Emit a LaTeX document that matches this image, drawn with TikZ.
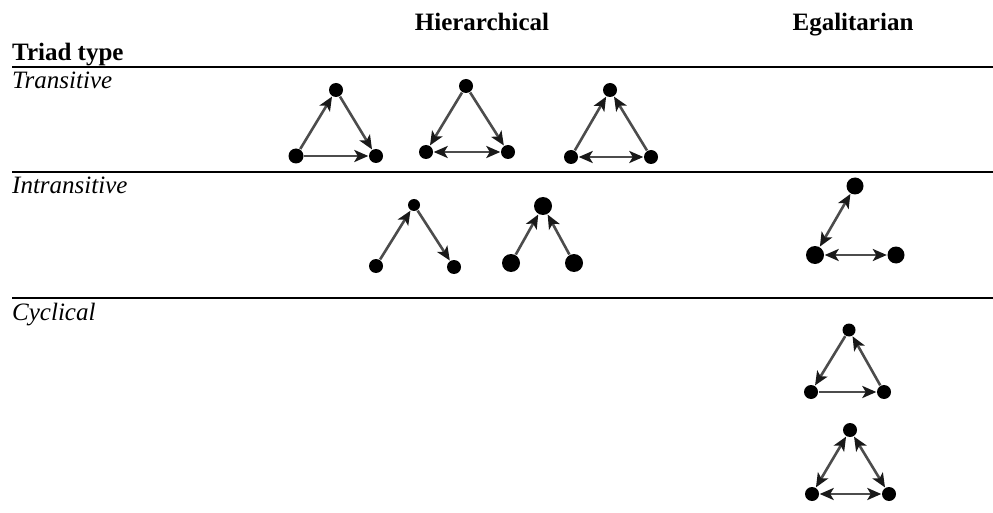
\documentclass[tikz,border=0pt]{standalone}
\usepackage{fontspec}
\setmainfont{Liberation Serif}
\usetikzlibrary{arrows.meta}
\begin{document}
\begin{tikzpicture}[x=1pt,y=-1pt,
  txt/.style={inner sep=0pt,font=\fontsize{25}{29}\selectfont},
  hd/.style={txt,font=\fontsize{25}{29}\selectfont\bfseries},
  row/.style={txt,font=\fontsize{25}{29}\selectfont\itshape,anchor=base west},
  rule/.style={line width=1.1pt},
  vtx/.style={circle,fill=black,inner sep=0pt,minimum size=14pt},
  big/.style={vtx,minimum size=18pt},
  tie/.style={line width=2.6pt,draw=black!70,shorten <=0.5pt,shorten >=0.5pt},
  tip/.tip={Stealth[length=14pt,width=12pt,inset=3.5pt,color=black!90]},
  a/.style={tie,-tip},
  b/.style={tie,tip-tip}]
\useasboundingbox (0,0) rectangle (993,513);
% headers
\node[hd,anchor=base] (hier) at (482,31) {Hierarchical};
\node[hd,anchor=base] (egal) at (853,31) {Egalitarian};
\node[hd,anchor=base west] (tt) at (12,61) {Triad type};
\coordinate (l1a) at (12,67); \coordinate (l1b) at (993,67);
\coordinate (l2a) at (12,172); \coordinate (l2b) at (993,172);
\coordinate (l3a) at (12,298); \coordinate (l3b) at (993,298);
\draw[rule] (l1a) -- (l1b);
\draw[rule] (l2a) -- (l2b);
\draw[rule] (l3a) -- (l3b);
\node[row] (tr) at (12,89) {Transitive};
\node[row] (intr) at (12,194) {Intransitive};
\node[row] (cyc) at (12,320) {Cyclical};
% Transitive 1
\node[vtx] (t1a) at (336,90) {};
\node[vtx,minimum size=15pt] (t1b) at (296,156) {};
\node[vtx] (t1c) at (376,156) {};
\draw[a] (t1b) -- (t1a);
\draw[a] (t1a) -- (t1c);
\draw[a] (t1b) -- (t1c);
% Transitive 2
\node[vtx] (t2a) at (466,86) {};
\node[vtx] (t2b) at (426,152) {};
\node[vtx] (t2c) at (508,152) {};
\draw[a] (t2a) -- (t2b);
\draw[a] (t2a) -- (t2c);
\draw[b] (t2b) -- (t2c);
% Transitive 3
\node[vtx] (t3a) at (610,90) {};
\node[vtx] (t3b) at (571,157) {};
\node[vtx] (t3c) at (651,157) {};
\draw[a] (t3b) -- (t3a);
\draw[a] (t3c) -- (t3a);
\draw[b] (t3b) -- (t3c);
% Intransitive 1
\node[vtx,minimum size=12pt] (i1a) at (414,205) {};
\node[vtx] (i1b) at (376,266) {};
\node[vtx] (i1c) at (454,267) {};
\draw[a] (i1b) -- (i1a);
\draw[a] (i1a) -- (i1c);
% Intransitive 2
\node[big] (i2a) at (543,206) {};
\node[big] (i2b) at (511,263) {};
\node[big] (i2c) at (574,263) {};
\draw[a] (i2b) -- (i2a);
\draw[a] (i2c) -- (i2a);
% Egalitarian intransitive
\node[vtx,minimum size=17pt] (e1a) at (855,186) {};
\node[big] (e1b) at (815,255) {};
\node[vtx,minimum size=17pt] (e1c) at (896,255) {};
\draw[b] (e1a) -- (e1b);
\draw[b] (e1b) -- (e1c);
% Cyclical 1
\node[vtx,minimum size=13pt] (c1a) at (849,330) {};
\node[vtx] (c1b) at (811,392) {};
\node[vtx] (c1c) at (884,392) {};
\draw[a] (c1a) -- (c1b);
\draw[a] (c1b) -- (c1c);
\draw[a] (c1c) -- (c1a);
% Cyclical 2
\node[vtx] (c2a) at (850,430) {};
\node[vtx] (c2b) at (812,494) {};
\node[vtx] (c2c) at (889,494) {};
\draw[b] (c2a) -- (c2b);
\draw[b] (c2a) -- (c2c);
\draw[b] (c2b) -- (c2c);
\end{tikzpicture}
\end{document}
